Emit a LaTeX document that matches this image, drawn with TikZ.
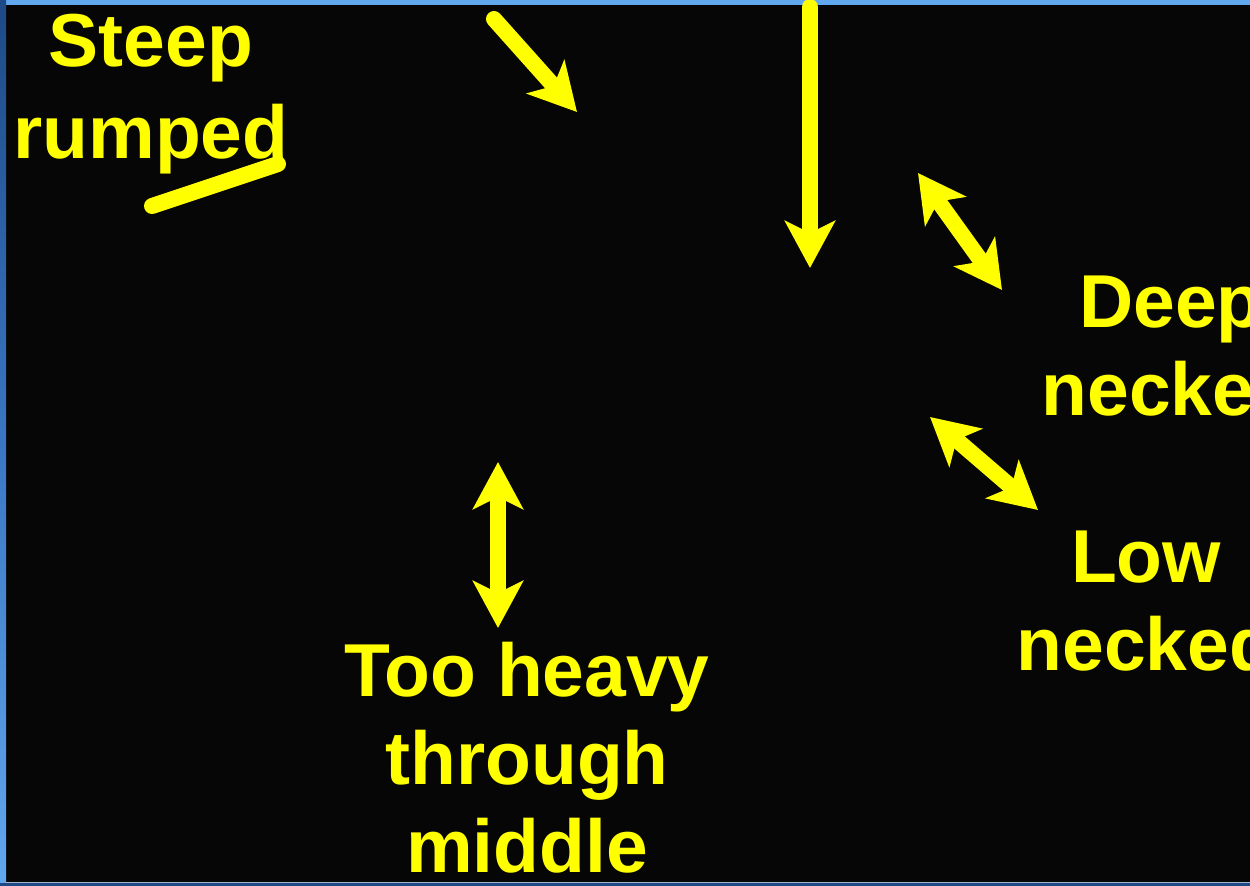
\documentclass[tikz,border=0pt]{standalone}
\usepackage{fontspec}
\setmainfont{Liberation Sans}
\usetikzlibrary{arrows.meta}
\definecolor{ylw}{HTML}{FFFF00}
\definecolor{bg}{HTML}{060606}
\definecolor{topblue}{HTML}{62A8EE}
\definecolor{midblue}{HTML}{3A76C4}
\definecolor{lowblue}{HTML}{1D4A86}
\tikzset{
  lbl/.style={text=ylw, font=\bfseries\fontsize{75bp}{88bp}\selectfont, align=center, inner sep=0pt, anchor=base},
  tipS/.tip={Stealth[length=47bp,width=50bp,inset=12bp]},
  arr/.style={draw=ylw, line width=16bp, line cap=round},
}
\begin{document}
\begin{tikzpicture}[x=1bp,y=-1bp]
\useasboundingbox (0,0) rectangle (1250,886);
\fill[bg] (0,0) rectangle (1250,886);
\fill[topblue] (0,0) rectangle (1250,5);
\shade[top color=lowblue, bottom color=topblue, middle color=midblue] (0,0) rectangle (6,886);
\fill[lowblue] (0,883) rectangle (1250,886);
\fill[lowblue!40!white] (6,882) rectangle (1250,883);

% labels (anchor base = baseline of last line)
\node[lbl, font=\bfseries\fontsize{75bp}{92bp}\selectfont] (steep) at (151,158) {Steep\\rumped};
\node[lbl] (heavy) at (527,872) {Too heavy\\through\\middle};
\node[lbl] (deep) at (1171,415) {Deep\\necked};
\node[lbl] (low) at (1146,670) {Low\\necked};

% connector coordinates
\coordinate (r1) at (152,206);
\coordinate (r2) at (278,164);
\coordinate (a1) at (494,19);
\coordinate (a2) at (577,112);
\coordinate (b1) at (810,7);
\coordinate (b2) at (810,268);
\coordinate (c1) at (918,173);
\coordinate (c2) at (1002,290);
\coordinate (d1) at (930,417);
\coordinate (d2) at (1038,510);
\coordinate (e1) at (498,462);
\coordinate (e2) at (498,628);

\draw[arr] (r1) -- (r2);
\draw[arr, -tipS] (a1) -- (a2);
\draw[arr, -tipS] (b1) -- (b2);
\draw[arr, tipS-tipS] (c1) -- (c2);
\draw[arr, tipS-tipS] (d1) -- (d2);
\draw[arr, tipS-tipS] (e1) -- (e2);
\end{tikzpicture}
\end{document}
